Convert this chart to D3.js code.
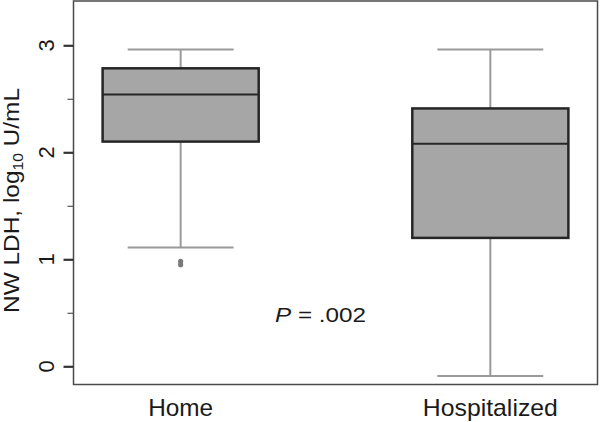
<!DOCTYPE html>
<html lang="en">
<head>
<meta charset="UTF-8">
<title>NW LDH by group</title>
<script src="https://d3js.org/d3.v7.min.js"></script>
<style>
    body { margin: 0; background: #fff; }
    svg { display: block; font-family: "Liberation Sans", Arial, Helvetica, sans-serif; }
</style>
</head>
<body>
<div id="chart"></div>
<script>
// box statistics (log10 U/mL)
const groups = ['Home', 'Hospitalized'];
const whiskerLow = [1.11, -0.09];
const q1 = [2.10, 1.20];
const median = [2.54, 2.08];
const q3 = [2.785, 2.41];
const whiskerHigh = [2.96, 2.96];
const outlierGroup = ['Home', 'Home'];
const outlierValue = [0.98, 0.95];
const yMajorTicks = [0, 1, 2, 3];
const yMinorTicks = [0.5, 1.5, 2.5];
const pText = '.002';

const width = 601, height = 422;
const frame = { left: 73.5, right: 597.5, top: 1, bottom: 384.5 };

const svg = d3.select('#chart').append('svg')
    .attr('width', width)
    .attr('height', height);

const x = d3.scalePoint()
    .domain(groups)
    .range([frame.left, frame.right])
    .padding(0.346);

const y = d3.scaleLinear()
    .domain([0, 3])
    .range([366.3, 45.3]);

const boxHalf = x.step() * 0.252;
const capHalf = x.step() * 0.171;

const boxes = groups.map((g, i) => ({
    group: g, lo: whiskerLow[i], q1: q1[i], med: median[i], q3: q3[i], hi: whiskerHigh[i]
}));

// whiskers
const wg = svg.append('g').attr('stroke', '#9a9a9a').attr('stroke-width', 2);
boxes.forEach(d => {
    const cx = x(d.group);
    wg.append('line').attr('x1', cx).attr('x2', cx).attr('y1', y(d.q3)).attr('y2', y(d.hi));
    wg.append('line').attr('x1', cx).attr('x2', cx).attr('y1', y(d.q1)).attr('y2', y(d.lo));
    wg.append('line').attr('x1', cx - capHalf).attr('x2', cx + capHalf).attr('y1', y(d.hi)).attr('y2', y(d.hi));
    wg.append('line').attr('x1', cx - capHalf).attr('x2', cx + capHalf).attr('y1', y(d.lo)).attr('y2', y(d.lo));
});

// boxes
svg.selectAll('.box')
    .data(boxes)
    .join('rect')
    .attr('class', 'box')
    .attr('x', d => x(d.group) - boxHalf)
    .attr('width', boxHalf * 2)
    .attr('y', d => y(d.q3))
    .attr('height', d => y(d.q1) - y(d.q3))
    .attr('fill', '#a6a6a6')
    .attr('stroke', '#262626')
    .attr('stroke-width', 2.5);

svg.selectAll('.median')
    .data(boxes)
    .join('line')
    .attr('class', 'median')
    .attr('x1', d => x(d.group) - boxHalf)
    .attr('x2', d => x(d.group) + boxHalf)
    .attr('y1', d => y(d.med))
    .attr('y2', d => y(d.med))
    .attr('stroke', '#262626')
    .attr('stroke-width', 2.2);

// outliers
svg.selectAll('.outlier')
    .data(outlierValue.map((v, i) => ({ group: outlierGroup[i], v })))
    .join('circle')
    .attr('class', 'outlier')
    .attr('cx', d => x(d.group))
    .attr('cy', d => y(d.v))
    .attr('r', 2.6)
    .attr('fill', '#7a7a7a');

// frame
svg.append('rect')
    .attr('x', frame.left)
    .attr('y', frame.top)
    .attr('width', frame.right - frame.left)
    .attr('height', frame.bottom - frame.top)
    .attr('fill', 'none')
    .attr('stroke', '#4a4a4a')
    .attr('stroke-width', 1.5);

// y axis: major and minor ticks
const majorAxis = svg.append('g')
    .attr('transform', `translate(${frame.left},0)`)
    .call(d3.axisLeft(y).tickValues(yMajorTicks).tickSize(10).tickFormat(''));
majorAxis.select('.domain').remove();
majorAxis.selectAll('line').attr('stroke', '#333').attr('stroke-width', 2.2);

const minorAxis = svg.append('g')
    .attr('transform', `translate(${frame.left},0)`)
    .call(d3.axisLeft(y).tickValues(yMinorTicks).tickSize(6).tickFormat(''));
minorAxis.select('.domain').remove();
minorAxis.selectAll('line').attr('stroke', '#555').attr('stroke-width', 1.2);

svg.selectAll('.ylab')
    .data(yMajorTicks)
    .join('text')
    .attr('class', 'ylab')
    .attr('transform', d => `translate(53.5,${y(d)}) rotate(-90)`)
    .attr('text-anchor', 'middle')
    .attr('font-size', 22)
    .attr('fill', '#1a1a1a')
    .text(d => d);

// y title
const yt = svg.append('text')
    .attr('transform', 'translate(19,200.5) rotate(-90)')
    .attr('text-anchor', 'middle')
    .attr('font-size', 22)
    .attr('fill', '#1a1a1a')
    .attr('textLength', 225)
    .attr('lengthAdjust', 'spacingAndGlyphs');
yt.append('tspan').text('NW LDH, log');
yt.append('tspan').attr('font-size', 14).attr('dy', 4).text('10');
yt.append('tspan').attr('dy', -4).text(' U/mL');

// x labels
svg.selectAll('.xlab')
    .data(groups)
    .join('text')
    .attr('class', 'xlab')
    .attr('x', d => x(d))
    .attr('y', 415.5)
    .attr('text-anchor', 'middle')
    .attr('font-size', 24)
    .attr('fill', '#1a1a1a')
    .attr('textLength', d => d === 'Home' ? 65 : 135)
    .attr('lengthAdjust', 'spacingAndGlyphs')
    .text(d => d);

// p value
const pt = svg.append('text')
    .attr('x', 275)
    .attr('y', 322)
    .attr('font-size', 20.5)
    .attr('fill', '#1a1a1a')
    .attr('textLength', 91)
    .attr('lengthAdjust', 'spacingAndGlyphs');
pt.append('tspan').attr('font-style', 'italic').text('P');
pt.append('tspan').text(' = ' + pText);
</script>
</body>
</html>
